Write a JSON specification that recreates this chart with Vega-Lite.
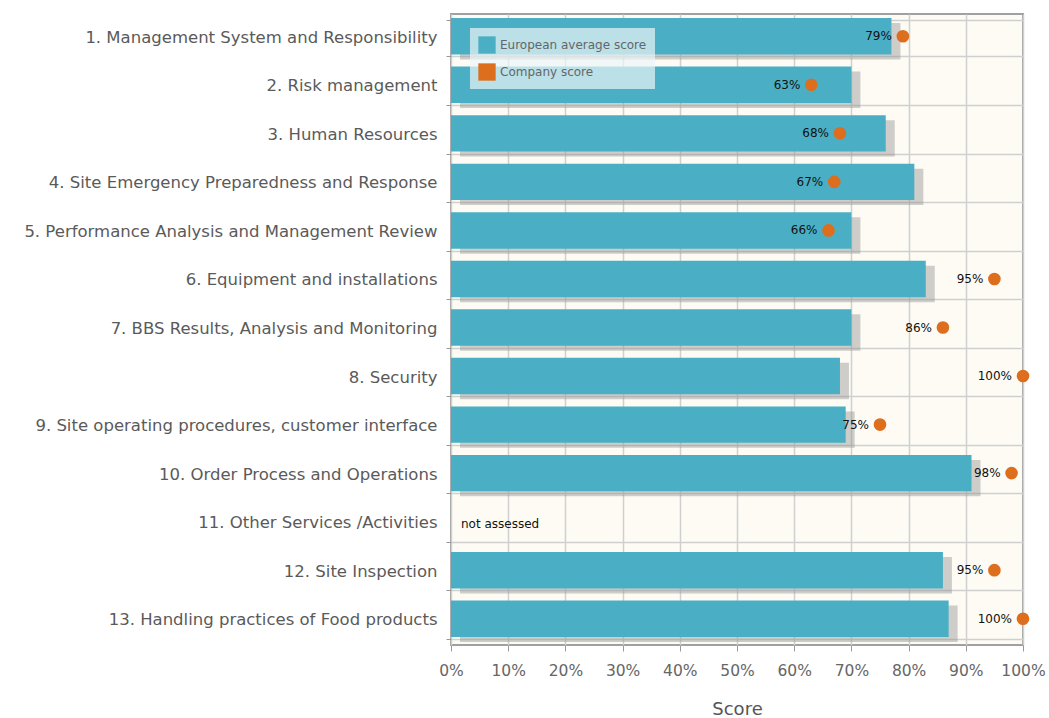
{
  "$schema": "https://vega.github.io/schema/vega-lite/v6.json",
  "autosize": {"type": "none"},
  "padding": {"left": 451, "top": 14, "right": 26, "bottom": 73},
  "width": 572,
  "height": 631,
  "background": "white",
  "config": {
    "view": {"fill": "#fdfbf4", "stroke": "#a0a0a0", "strokeWidth": 2},
    "font": "DejaVu Sans"
  },
  "data": {
    "values": [
      {"category": "1. Management System and Responsibility", "avg": 77, "company": 79, "label": "79%"},
      {"category": "2. Risk management", "avg": 70, "company": 63, "label": "63%"},
      {"category": "3. Human Resources", "avg": 76, "company": 68, "label": "68%"},
      {"category": "4. Site Emergency Preparedness and Response", "avg": 81, "company": 67, "label": "67%"},
      {"category": "5. Performance Analysis and Management Review", "avg": 70, "company": 66, "label": "66%"},
      {"category": "6. Equipment and installations", "avg": 83, "company": 95, "label": "95%"},
      {"category": "7. BBS Results, Analysis and Monitoring", "avg": 70, "company": 86, "label": "86%"},
      {"category": "8. Security", "avg": 68, "company": 100, "label": "100%"},
      {"category": "9. Site operating procedures, customer interface", "avg": 69, "company": 75, "label": "75%"},
      {"category": "10. Order Process and Operations", "avg": 91, "company": 98, "label": "98%"},
      {"category": "11. Other Services /Activities", "avg": null, "company": null, "label": null, "note": "not assessed"},
      {"category": "12. Site Inspection", "avg": 86, "company": 95, "label": "95%"},
      {"category": "13. Handling practices of Food products", "avg": 87, "company": 100, "label": "100%"}
    ]
  },
  "encoding": {
    "y": {
      "field": "category",
      "type": "nominal",
      "sort": [
        "1. Management System and Responsibility",
        "2. Risk management",
        "3. Human Resources",
        "4. Site Emergency Preparedness and Response",
        "5. Performance Analysis and Management Review",
        "6. Equipment and installations",
        "7. BBS Results, Analysis and Monitoring",
        "8. Security",
        "9. Site operating procedures, customer interface",
        "10. Order Process and Operations",
        "11. Other Services /Activities",
        "12. Site Inspection",
        "13. Handling practices of Food products"
      ],
      "title": null,
      "scale": {"paddingInner": 0.25, "paddingOuter": 0.125},
      "axis": {
        "tickBand": "extent",
        "labelFontSize": 16.5,
        "labelColor": "#5a5a5a",
        "labelPadding": 9,
        "labelOffset": -1,
        "tickColor": "#999999",
        "tickSize": 5,
        "domain": false,
        "gridColor": "#d0d0d0",
        "gridWidth": 1.5,
        "grid": true,
        "labelLimit": 500
      }
    }
  },
  "layer": [
    {
      "mark": {"type": "bar", "color": "#8a8a8a", "opacity": 0.4, "xOffset": 9, "yOffset": 3},
      "encoding": {
        "x": {"field": "avg", "type": "quantitative"}
      }
    },
    {
      "mark": {"type": "bar", "yOffset": -2},
      "encoding": {
        "x": {
          "field": "avg",
          "type": "quantitative",
          "scale": {"domain": [0, 100], "nice": false},
          "title": "Score",
          "axis": {
            "values": [0, 10, 20, 30, 40, 50, 60, 70, 80, 90, 100],
            "labelExpr": "datum.value + '%'",
            "labelOverlap": false,
            "labelFlush": false,
            "labelFontSize": 15.5,
            "labelColor": "#666666",
            "labelPadding": 12,
            "titleFontSize": 18,
            "titleColor": "#555555",
            "titleFontWeight": "normal",
            "titlePadding": 22,
            "tickColor": "#999999",
            "tickSize": 6,
            "domain": false,
            "gridColor": "#d0d0d0",
            "gridWidth": 1.5
          }
        },
        "color": {
          "datum": "European average score",
          "type": "nominal",
          "scale": {"domain": ["European average score", "Company score"], "range": ["#4aafc4", "#dc6e1e"]},
          "legend": {
            "title": null,
            "orient": "none",
            "legendX": 19,
            "legendY": 14,
            "symbolType": "square",
            "symbolSize": 300,
            "symbolStrokeWidth": 0,
            "labelFontSize": 12,
            "labelColor": "#666666",
            "rowPadding": 9,
            "padding": 8,
            "fillColor": "rgba(235,245,248,0.7)",
            "labelLimit": 300
          }
        }
      }
    },
    {
      "mark": {"type": "circle", "size": 160, "opacity": 1, "yOffset": -2},
      "encoding": {
        "x": {"field": "company", "type": "quantitative"},
        "color": {"datum": "Company score", "type": "nominal"}
      }
    },
    {
      "mark": {"type": "text", "align": "right", "dx": -11, "yOffset": -2, "fontSize": 12, "color": "#111111"},
      "encoding": {
        "x": {"field": "company", "type": "quantitative"},
        "text": {"field": "label"}
      }
    },
    {
      "transform": [{"filter": "datum.note != null"}],
      "mark": {"type": "text", "align": "left", "dx": 10, "fontSize": 12, "color": "#111111"},
      "encoding": {
        "x": {"datum": 0, "type": "quantitative"},
        "text": {"field": "note"}
      }
    }
  ]
}
